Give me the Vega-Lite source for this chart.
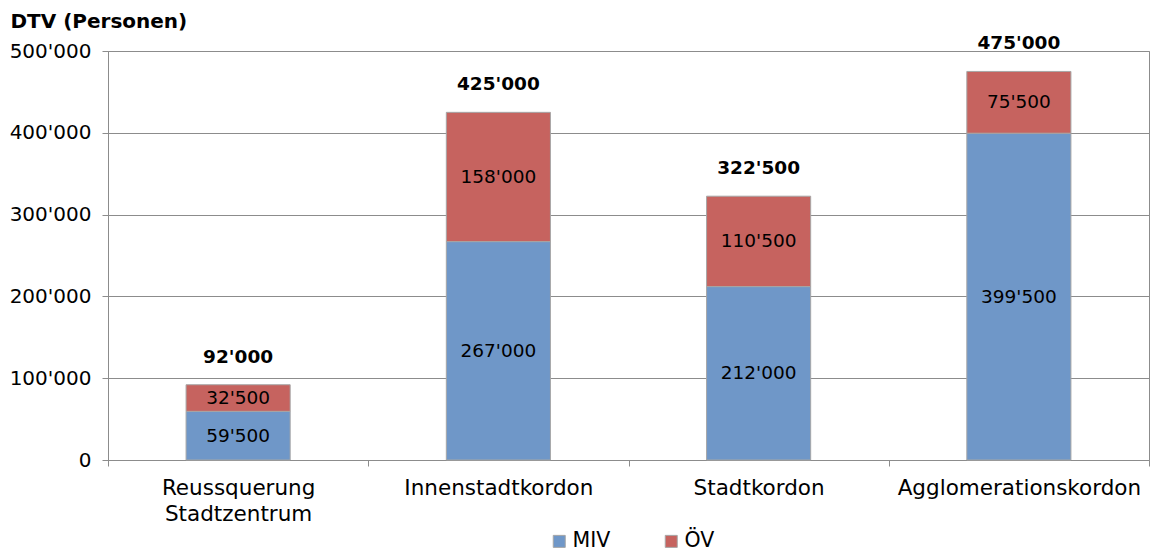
{
  "$schema": "https://vega.github.io/schema/vega-lite/v6.json",
  "width": 1041,
  "height": 409,
  "autosize": {"type": "none"},
  "padding": {"left": 108, "top": 51, "right": 2, "bottom": 91},
  "background": "white",
  "data": {
    "values": [
      {"kordon": "Reussquerung Stadtzentrum", "typ": "MIV", "wert": 59500},
      {"kordon": "Reussquerung Stadtzentrum", "typ": "ÖV", "wert": 32500},
      {"kordon": "Innenstadtkordon", "typ": "MIV", "wert": 267000},
      {"kordon": "Innenstadtkordon", "typ": "ÖV", "wert": 158000},
      {"kordon": "Stadtkordon", "typ": "MIV", "wert": 212000},
      {"kordon": "Stadtkordon", "typ": "ÖV", "wert": 110500},
      {"kordon": "Agglomerationskordon", "typ": "MIV", "wert": 399500},
      {"kordon": "Agglomerationskordon", "typ": "ÖV", "wert": 75500}
    ]
  },
  "encoding": {
    "x": {
      "field": "kordon",
      "type": "nominal",
      "sort": null,
      "scale": {"paddingInner": 0, "paddingOuter": 0},
      "axis": {
        "title": null,
        "labelAngle": 0,
        "tickBand": "extent",
        "labelExpr": "split(datum.label, ' ')",
        "labelFontSize": 21.5,
        "labelLineHeight": 26,
        "labelPadding": 11,
        "labelLimit": 0,
        "tickSize": 6,
        "domainColor": "#8c8c8c",
        "tickColor": "#8c8c8c",
        "grid": false
      }
    }
  },
  "layer": [
    {
      "mark": {"type": "bar", "width": {"band": 0.4}, "stroke": "#a6a6a6", "strokeWidth": 1},
      "encoding": {
        "y": {
          "field": "wert",
          "type": "quantitative",
          "stack": "zero",
          "scale": {"domain": [0, 500000], "nice": false},
          "axis": {
            "values": [0, 100000, 200000, 300000, 400000, 500000],
            "format": ",d",
            "title": "DTV (Personen)",
            "titleAngle": 0,
            "titleAlign": "left",
            "titleBaseline": "alphabetic",
            "titleX": -98,
            "titleY": -24,
            "titleFontSize": 20,
            "titleFontWeight": "bold",
            "titleColor": "black",
            "labelFontSize": 20,
            "labelPadding": 11,
            "tickSize": 6,
            "grid": true,
            "gridColor": "#8c8c8c",
            "domainColor": "#8c8c8c",
            "tickColor": "#8c8c8c"
          }
        },
        "color": {
          "field": "typ",
          "type": "nominal",
          "scale": {"domain": ["MIV", "ÖV"], "range": ["#6f97c8", "#c6635f"]},
          "legend": {
            "title": null,
            "orient": "none",
            "direction": "horizontal",
            "legendX": 441,
            "legendY": 480,
            "symbolType": "square",
            "symbolSize": 144,
            "symbolStrokeColor": "#a6a6a6",
            "symbolStrokeWidth": 1,
            "labelFontSize": 20.5,
            "labelOffset": 3,
            "columnPadding": 50
          }
        },
        "order": {"field": "typ", "sort": "ascending"}
      }
    },
    {
      "mark": {"type": "text", "fontSize": 18.5, "color": "black", "baseline": "middle"},
      "encoding": {
        "y": {"field": "wert", "type": "quantitative", "stack": "zero", "bandPosition": 0.5},
        "detail": {"field": "typ"},
        "order": {"field": "typ", "sort": "ascending"},
        "text": {"field": "wert", "type": "quantitative", "format": ",d"}
      }
    },
    {
      "mark": {"type": "text", "fontSize": 18.5, "fontWeight": "bold", "color": "black", "baseline": "middle", "dy": -28},
      "encoding": {
        "y": {"aggregate": "sum", "field": "wert", "type": "quantitative"},
        "text": {"aggregate": "sum", "field": "wert", "type": "quantitative", "format": ",d"}
      }
    }
  ],
  "config": {
    "locale": {"number": {"decimal": ".", "thousands": "'", "grouping": [3], "currency": ["CHF ", ""]}},
    "font": "DejaVu Sans",
    "view": {"stroke": "#8c8c8c", "strokeWidth": 1},
    "axis": {"labelColor": "black", "labelFont": "DejaVu Sans", "titleFont": "DejaVu Sans"},
    "legend": {"labelColor": "black", "labelFont": "DejaVu Sans"},
    "text": {"font": "DejaVu Sans"}
  }
}
